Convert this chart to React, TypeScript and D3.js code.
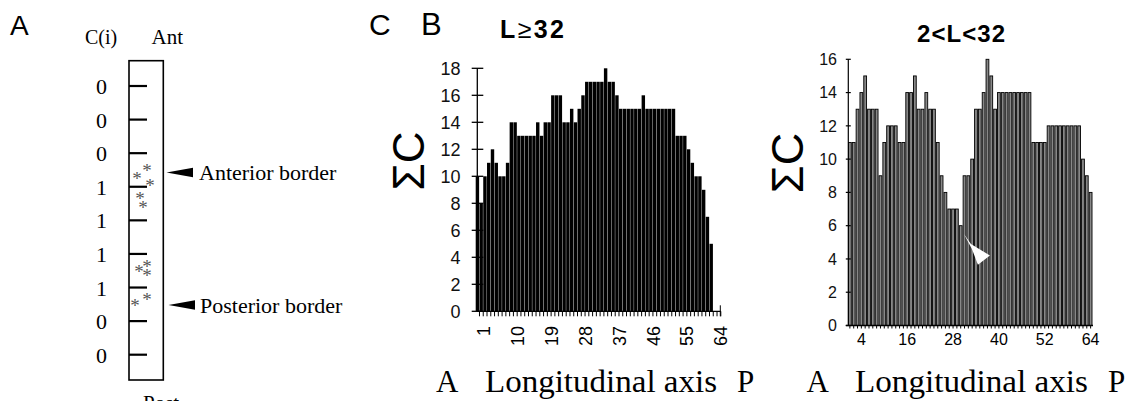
import React from "react";
import * as d3 from "d3";

// ---------- Data ----------
// Panel A: C(i) per segment (anterior -> posterior)
const cValues = [0, 0, 0, 1, 1, 1, 1, 0, 0];
// asterisk marks in panel A: [position in tick units, horizontal offset in box]
const asterisks: [number, number][] = [
  [2.65, 8], [2.4, 18], [2.85, 21], [3.25, 11], [3.51, 14],
  [5.43, 10], [5.28, 18], [5.53, 18], [6.42, 6], [6.25, 18],
];

// Panel B left: L >= 32, positions 0..62 (axis runs to 64)
const leftValues = [
  10, 8, 10, 11, 12, 11, 10, 10, 11, 14, 14, 13, 13, 13, 13, 13, 14, 13, 14, 14,
  16, 16, 16, 14, 14, 15, 14, 15, 16, 17, 17, 17, 17, 17, 18, 17, 17, 16, 15, 15,
  15, 15, 15, 15, 16, 15, 15, 15, 15, 15, 15, 15, 15, 13, 13, 13, 12, 11, 10, 10,
  9, 7, 5,
];
const leftTickLabels = [1, 10, 19, 28, 37, 46, 55, 64];
const leftYTicks = [0, 2, 4, 6, 8, 10, 12, 14, 16, 18];

// Panel B right: 2 < L < 32, positions 1..64
const rightValues = [
  11, 11, 13, 14, 15, 13, 13, 13, 9, 11, 12, 12, 12, 11, 11, 14, 14, 15, 13, 13,
  14, 13, 13, 11, 9, 8, 7, 7, 7, 6, 9, 9, 10, 13, 13, 14, 16, 15, 13, 14,
  14, 14, 14, 14, 14, 14, 14, 14, 11, 11, 11, 11, 12, 12, 12, 12, 12, 12, 12, 12,
  12, 10, 9, 8,
];
const rightTickLabels = [4, 16, 28, 40, 52, 64];
const rightYTicks = [0, 2, 4, 6, 8, 10, 12, 14, 16];

const SANS = "Arial, 'Liberation Sans', Helvetica, sans-serif";
const SERIF = "'Times New Roman', 'Liberation Serif', Times, serif";

export default function App() {
  // Panel A geometry
  const boxX0 = 129, boxX1 = 163.3, boxY0 = 60.7, boxY1 = 380;
  const yA = d3.scaleLinear().domain([0, cValues.length - 1]).range([86, 354.7]);

  // Left chart scales
  const xL = d3.scaleBand<number>().domain(d3.range(0, 65)).range([475.7, 720.8]).padding(0);
  const yL = d3.scaleLinear().domain([0, 18]).range([311.3, 68.3]);
  const axisLX = 477.3;

  // Right chart scales
  const xR = d3.scaleBand<number>().domain(d3.range(1, 65)).range([848.3, 1092.2]).paddingInner(0.27).paddingOuter(0.05);
  const yR = d3.scaleLinear().domain([0, 16]).range([325.5, 59.3]);
  const axisRX = 848.3;

  const arrowTipX = (xR(31) as number) + 0.8;
  const arrow = [
    [arrowTipX, yR(5.5)],
    [arrowTipX + 7, yR(4.9)],
    [arrowTipX + 26, yR(4.2)],
    [arrowTipX + 14, yR(3.65)],
    [arrowTipX + 8, yR(4.6)],
  ];

  return (
    <svg width={1142} height={401} style={{ position: "absolute", left: 0, top: 0, background: "#fff" }}>
      {/* ---------------- Panel A ---------------- */}
      <text x={10} y={35} fontFamily={SANS} fontSize={28}>A</text>
      <text x={85} y={43.5} fontFamily={SERIF} fontSize={20}>C(i)</text>
      <text x={151.5} y={43.5} fontFamily={SERIF} fontSize={21}>Ant</text>
      <rect x={boxX0} y={boxY0} width={boxX1 - boxX0} height={boxY1 - boxY0} fill="none" stroke="#000" strokeWidth={1.6} />
      {cValues.map((v, i) => (
        <g key={"a" + i}>
          <line x1={boxX0} x2={147} y1={yA(i)} y2={yA(i)} stroke="#000" strokeWidth={2.2} />
          <text x={101.5} y={yA(i) + 8} textAnchor="middle" fontFamily={SERIF} fontSize={22}>{v}</text>
        </g>
      ))}
      {asterisks.map(([p, dx], i) => (
        <text key={"s" + i} x={boxX0 + dx} y={yA(p) + 10} textAnchor="middle" fontFamily={SERIF} fontSize={19} fill="#555">*</text>
      ))}
      <polygon points="166.5,172.5 193,167.8 193,177.2" fill="#000" />
      <text x={199} y={180} fontFamily={SERIF} fontSize={22}>Anterior border</text>
      <polygon points="168.5,305 195,300.3 195,309.7" fill="#000" />
      <text x={200} y={313} fontFamily={SERIF} fontSize={22}>Posterior border</text>
      <text x={143} y={410} fontFamily={SERIF} fontSize={21}>Post</text>

      {/* ---------------- Panel labels ---------------- */}
      <text x={369} y={35} fontFamily={SANS} fontSize={30}>C</text>
      <text x={421} y={35} fontFamily={SANS} fontSize={31}>B</text>

      {/* ---------------- Left chart ---------------- */}
      <text x={500} y={38.3} fontFamily={SANS} fontSize={25} fontWeight="bold" textLength={64} lengthAdjust="spacing">
        L<tspan fontWeight="normal">≥</tspan>32
      </text>
      <text transform={`translate(424,161) rotate(-90)`} textAnchor="middle" fontFamily={SANS} fontSize={44}>ΣC</text>
      {leftValues.map((v, i) => (
        <rect key={"lb" + i} x={xL(i) as number} y={yL(v)} width={xL.bandwidth() - 0.35} height={yL(0) - yL(v)} fill="#000" />
      ))}
      <line x1={axisLX} x2={axisLX} y1={yL(18)} y2={yL(0)} stroke="#000" strokeWidth={1.3} />
      {leftYTicks.map((t) => (
        <g key={"ly" + t}>
          <line x1={471.7} x2={483.3} y1={yL(t)} y2={yL(t)} stroke="#000" strokeWidth={1.3} />
          <text x={460.5} y={yL(t)} dy="0.36em" textAnchor="end" fontFamily={SANS} fontSize={18} fill="#111">{t}</text>
        </g>
      ))}
      <line x1={axisLX} x2={720.8} y1={yL(0)} y2={yL(0)} stroke="#000" strokeWidth={1.3} />
      {d3.range(0, 65).map((k) => (
        <line key={"lt" + k} x1={(xL(k) as number) + xL.bandwidth()} x2={(xL(k) as number) + xL.bandwidth()} y1={yL(0)} y2={yL(0) + 5} stroke="#000" strokeWidth={1} />
      ))}
      <line x1={720.3} x2={720.3} y1={yL(0) - 6} y2={yL(0) + 5} stroke="#000" strokeWidth={1} />
      {leftTickLabels.map((t) => (
        <text key={"lx" + t} transform={`translate(${(xL(t) as number) + xL.bandwidth() / 2 + 2},326) rotate(-90)`} textAnchor="end" dy="0.36em" fontFamily={SANS} fontSize={18}>{t}</text>
      ))}
      <text x={436} y={392} fontFamily={SERIF} fontSize={31}>A</text>
      <text x={485} y={392} fontFamily={SERIF} fontSize={31} textLength={232} lengthAdjust="spacingAndGlyphs">Longitudinal axis</text>
      <text x={737} y={392} fontFamily={SERIF} fontSize={31}>P</text>

      {/* ---------------- Right chart ---------------- */}
      <text x={917} y={41.7} fontFamily={SANS} fontSize={24} fontWeight="bold" textLength={88} lengthAdjust="spacing">2&lt;L&lt;32</text>
      <text transform={`translate(803,163) rotate(-90)`} textAnchor="middle" fontFamily={SANS} fontSize={45}>ΣC</text>
      {rightValues.map((v, i) => (
        <rect key={"rb" + i} x={xR(i + 1) as number} y={yR(v)} width={xR.bandwidth()} height={yR(0) - yR(v)} fill="#888" stroke="#000" strokeWidth={0.9} />
      ))}
      <polygon points={arrow.map((p) => p.join(",")).join(" ")} fill="#fff" />
      <line x1={axisRX} x2={axisRX} y1={yR(16)} y2={yR(0)} stroke="#000" strokeWidth={1.2} />
      {rightYTicks.map((t) => (
        <g key={"ry" + t}>
          <line x1={845.8} x2={850.8} y1={yR(t)} y2={yR(t)} stroke="#000" strokeWidth={1.2} />
          <text x={837} y={yR(t)} dy="0.36em" textAnchor="end" fontFamily={SANS} fontSize={16} fill="#111">{t}</text>
        </g>
      ))}
      <line x1={845.8} x2={1093} y1={yR(0)} y2={yR(0)} stroke="#000" strokeWidth={1.4} />
      {d3.range(1, 65).map((k) => (
        <line key={"rt" + k} x1={(xR(k) as number) + xR.bandwidth() / 2} x2={(xR(k) as number) + xR.bandwidth() / 2} y1={yR(0)} y2={yR(0) + 3} stroke="#000" strokeWidth={1} />
      ))}
      {rightTickLabels.map((t) => (
        <text key={"rx" + t} x={(xR(t) as number) + xR.bandwidth() / 2} y={345} textAnchor="middle" fontFamily={SANS} fontSize={16}>{t}</text>
      ))}
      <text x={806.5} y={392} fontFamily={SERIF} fontSize={31}>A</text>
      <text x={855} y={392} fontFamily={SERIF} fontSize={31} textLength={233} lengthAdjust="spacingAndGlyphs">Longitudinal axis</text>
      <text x={1108} y={392} fontFamily={SERIF} fontSize={31}>P</text>
    </svg>
  );
}
